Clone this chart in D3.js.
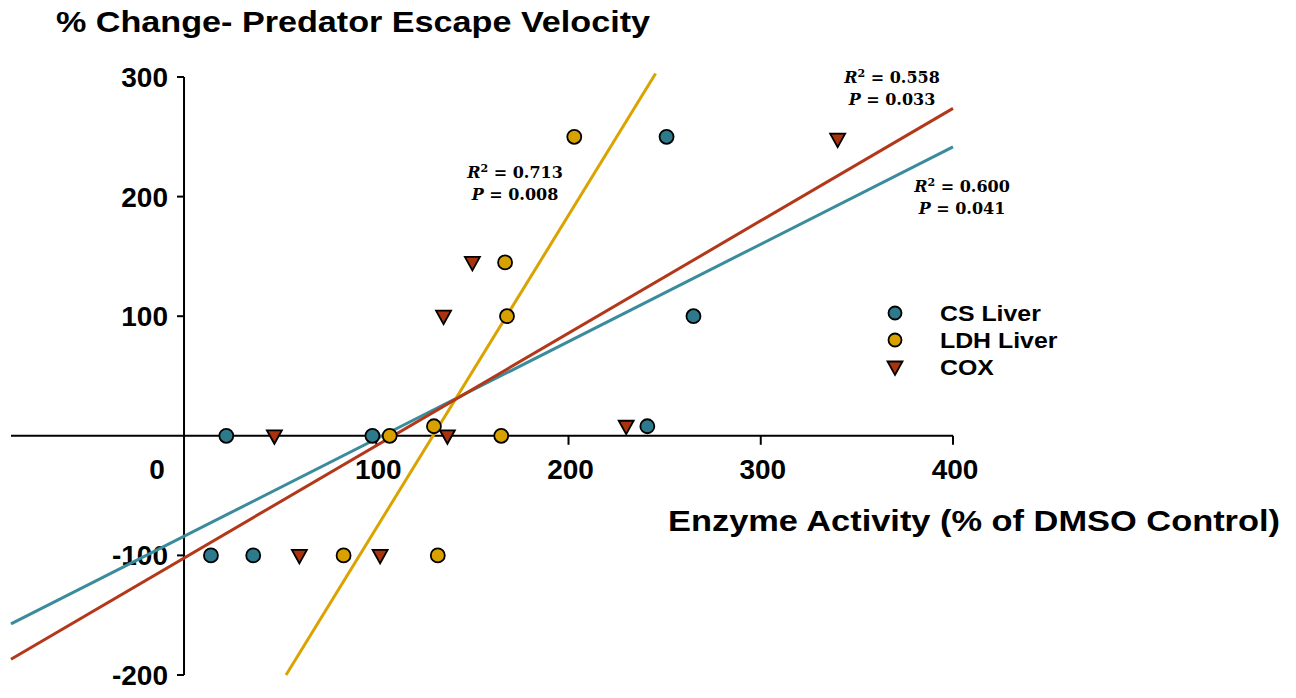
<!DOCTYPE html>
<meta charset="utf-8">
<script src="https://d3js.org/d3.v7.min.js"></script>
<style>
  body { margin: 0; background: #fff; }
  text { font-family: "Liberation Sans", Arial, sans-serif; font-weight: bold; fill: #000; }
  .stat { font-family: "DejaVu Serif", serif; font-weight: bold; font-size: 16px; }
</style>
<div id="my_dataviz"></div>
<script>

// series names and colours
var seriesNames = ["CS Liver", "LDH Liver", "COX"];
var pointColors = ["#2c7a8c", "#d9a100", "#a9330c"];
var lineColors = ["#3a8c9c", "#dba300", "#b3381a"];

// point values
var csX = [22, 98, 14, 36, 251, 265, 241];
var csY = [0, 0, -100, -100, 250, 100, 8];
var ldhX = [107, 130, 165, 83, 132, 203, 167, 168];
var ldhY = [0, 8, 0, -100, -100, 250, 145, 100];
var coxX = [47, 137, 60, 102, 230, 340, 150, 135];
var coxY = [0, 0, -100, -100, 8, 248, 145, 100];

// fitted lines (slope, intercept) and their stats
var slopes = [0.814, 2.616, 0.940];
var intercepts = [-84, -338.8, -102.2];
var r2Labels = ["0.600", "0.713", "0.558"];
var pLabels = ["0.041", "0.008", "0.033"];

// tick labels
var xTicks = [100, 200, 300, 400];
var yTicks = [300, 200, 100, -100, -200];

var width = 1296, height = 698;

var svg = d3.select("#my_dataviz")
  .append("svg")
    .attr("width", width)
    .attr("height", height);

var x = d3.scaleLinear().domain([-90, 400]).range([11, 953]);
var y = d3.scaleLinear().domain([-200, 300]).range([675, 77]);

// title
svg.append("text")
  .attr("x", 56).attr("y", 32)
  .style("font-size", "30px")
  .attr("textLength", 594).attr("lengthAdjust", "spacingAndGlyphs")
  .text("% Change- Predator Escape Velocity");

// x axis through y = 0
svg.append("line")
  .attr("x1", x(-90)).attr("x2", x(400))
  .attr("y1", y(0)).attr("y2", y(0))
  .attr("stroke", "#000").attr("stroke-width", 2);
svg.selectAll(".xtick")
  .data(xTicks)
  .enter().append("line")
    .attr("x1", d => x(d)).attr("x2", d => x(d))
    .attr("y1", y(0)).attr("y2", y(0) + 9)
    .attr("stroke", "#000").attr("stroke-width", 2);
svg.selectAll(".xlab")
  .data(xTicks)
  .enter().append("text")
    .attr("x", d => x(d) + 2)
    .attr("y", 479)
    .attr("text-anchor", "middle")
    .style("font-size", "28px")
    .text(d => d);
svg.append("text")
  .attr("x", x(0) - 27).attr("y", 479)
  .attr("text-anchor", "middle")
  .style("font-size", "28px")
  .text("0");

// x axis label
svg.append("text")
  .attr("x", 668).attr("y", 531)
  .style("font-size", "30px")
  .attr("textLength", 612).attr("lengthAdjust", "spacingAndGlyphs")
  .text("Enzyme Activity (% of DMSO Control)");

// y axis through x = 0
svg.append("line")
  .attr("x1", x(0)).attr("x2", x(0))
  .attr("y1", y(300)).attr("y2", y(-200))
  .attr("stroke", "#000").attr("stroke-width", 2);
svg.selectAll(".ytick")
  .data(yTicks)
  .enter().append("line")
    .attr("x1", x(0) - 7).attr("x2", x(0))
    .attr("y1", d => y(d)).attr("y2", d => y(d))
    .attr("stroke", "#000").attr("stroke-width", 2);
svg.selectAll(".ylab")
  .data(yTicks)
  .enter().append("text")
    .attr("x", x(0) - 16)
    .attr("y", d => y(d) + 10)
    .attr("text-anchor", "end")
    .style("font-size", "28px")
    .text(d => d);

// regression lines
var lineRanges = [[-90, 400], [53.06, 245.3], [-90, 400]];
var line = d3.line().x(d => x(d[0])).y(d => y(d[1]));
seriesNames.forEach(function(name, i) {
  var pts = lineRanges[i].map(v => [v, slopes[i] * v + intercepts[i]]);
  svg.append("path")
    .attr("d", line(pts))
    .attr("fill", "none")
    .attr("stroke", lineColors[i])
    .attr("stroke-width", 3);
});

// points
var tri = "M-7.5,-5.5L7.5,-5.5L0,8Z";
function circles(xs, ys, color) {
  svg.append("g").selectAll("circle")
    .data(xs.map((v, i) => [v, ys[i]]))
    .enter().append("circle")
      .attr("cx", d => x(d[0]))
      .attr("cy", d => y(d[1]))
      .attr("r", 7)
      .attr("fill", color)
      .attr("stroke", "#000").attr("stroke-width", 1.8);
}
circles(csX, csY, pointColors[0]);
circles(ldhX, ldhY, pointColors[1]);
svg.append("g").selectAll("path")
  .data(coxX.map((v, i) => [v, coxY[i]]))
  .enter().append("path")
    .attr("d", tri)
    .attr("transform", d => "translate(" + x(d[0]) + "," + y(d[1]) + ")")
    .attr("fill", pointColors[2])
    .attr("stroke", "#000").attr("stroke-width", 1.8);

// stats annotations
var statPos = [[962, 192], [515, 178], [892, 83]];
statPos.forEach(function(p, i) {
  var t1 = svg.append("text").attr("class", "stat")
    .attr("x", p[0]).attr("y", p[1]).attr("text-anchor", "middle");
  t1.append("tspan").style("font-style", "italic").text("R");
  t1.append("tspan").attr("dy", -6).style("font-size", "11px").text("2");
  t1.append("tspan").attr("dy", 6).text(" = " + r2Labels[i]);
  var t2 = svg.append("text").attr("class", "stat")
    .attr("x", p[0]).attr("y", p[1] + 22).attr("text-anchor", "middle");
  t2.append("tspan").style("font-style", "italic").text("P");
  t2.append("tspan").text(" = " + pLabels[i]);
});

// legend
var legY = [313, 340, 367];
seriesNames.forEach(function(name, i) {
  if (i < 2) {
    svg.append("circle")
      .attr("cx", 895).attr("cy", legY[i]).attr("r", 6.5)
      .attr("fill", pointColors[i])
      .attr("stroke", "#000").attr("stroke-width", 1.8);
  } else {
    svg.append("path")
      .attr("d", tri)
      .attr("transform", "translate(895," + legY[i] + ")")
      .attr("fill", pointColors[i])
      .attr("stroke", "#000").attr("stroke-width", 1.8);
  }
  svg.append("text")
    .attr("x", 940).attr("y", legY[i] + 8)
    .style("font-size", "22px")
    .attr("transform", "translate(940,0) scale(1.13,1) translate(-940,0)")
    .text(name);
});

</script>
